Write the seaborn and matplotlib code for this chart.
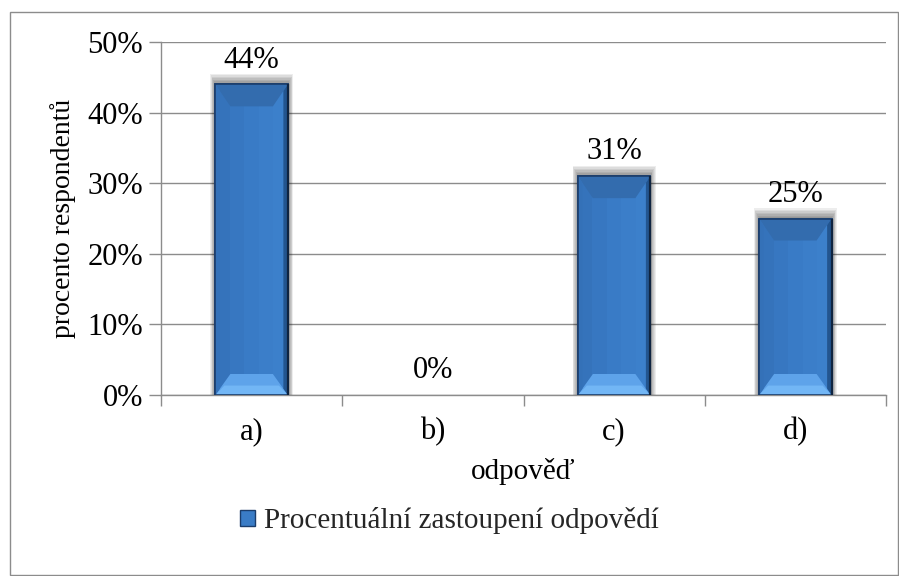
import matplotlib
matplotlib.use("Agg")
import matplotlib.pyplot as plt
from matplotlib.patches import Rectangle, Polygon, Patch
from matplotlib.ticker import PercentFormatter, FixedLocator, NullFormatter
import seaborn as sns
import pandas as pd

# Survey answers and their share of respondents
categories = ["a)", "b)", "c)", "d)"]
shares = [0.44, 0.00, 0.31, 0.25]
value_labels = ["44%", "0%", "31%", "25%"]
series_name = "Procentuální zastoupení odpovědí"

df = pd.DataFrame({"odpoved": categories, "podil": shares})

sns.set_theme(style="white")
plt.rcParams["font.family"] = ["Liberation Serif", "DejaVu Serif"]

fig = plt.figure(figsize=(8.99, 5.76), dpi=100)
ax = fig.add_axes([161 / 899, 1 - 395 / 576, 725 / 899, 353 / 576])

face = "#3a7cc6"
edge = "#1b3d6b"
sns.barplot(data=df, x="odpoved", y="podil", ax=ax, color=face, width=0.4,
            saturation=1, edgecolor=edge, linewidth=1.2, zorder=3)

ax.set_ylim(0, 0.5)
ax.set_xlim(-0.5, len(categories) - 0.5)

# gridlines and axes
grid_c = "#8c8c8c"
ax.yaxis.grid(True, color=grid_c, linewidth=1.0, zorder=0)
ax.set_axisbelow(True)
for s in ["top", "right"]:
    ax.spines[s].set_visible(False)
for s in ["left", "bottom"]:
    ax.spines[s].set_color(grid_c)
    ax.spines[s].set_linewidth(1.0)

ax.yaxis.set_major_formatter(PercentFormatter(1.0, decimals=0))
ax.set_yticks([0, 0.1, 0.2, 0.3, 0.4, 0.5])
ax.tick_params(axis="y", left=True, length=9, width=1.0, color=grid_c,
               labelsize=22, pad=4, labelcolor="black")
ax.tick_params(axis="x", which="major", bottom=False, length=0, labelsize=22,
               pad=16, labelcolor="black")
ax.xaxis.set_minor_locator(FixedLocator([i - 0.5 for i in range(len(categories) + 1)]))
ax.xaxis.set_minor_formatter(NullFormatter())
ax.tick_params(axis="x", which="minor", bottom=True, length=8, width=1.0, color=grid_c)

ax.set_xlabel("odpověď", fontsize=21, labelpad=8, color="black")
ax.set_ylabel("procento respondentů", fontsize=20, labelpad=8, color="black")

# bevel decoration and soft shadow, derived from each bar's geometry
ax_h_px = ax.get_position().height * fig.get_figheight() * fig.dpi
ax_w_px = ax.get_position().width * fig.get_figwidth() * fig.dpi
y_per_px = 0.5 / ax_h_px
x_per_px = len(categories) / ax_w_px
bars = ax.containers[0]
for p in bars.patches:
    x0, w = p.get_x(), p.get_width()
    y0, h = p.get_y(), p.get_height()
    if h <= 0:
        p.set_linewidth(0)
        p.set_visible(False)
        continue
    top = y0 + h
    # soft shadow above the bar
    for k in range(7):
        pad_x = (0.5 + k * 0.8) * x_per_px
        pad_y = (1.5 + k * 1.5) * y_per_px
        ax.add_patch(Rectangle((x0 - pad_x, y0), w + 2 * pad_x, h + pad_y,
                               facecolor="#000000", alpha=0.07, edgecolor="none",
                               zorder=2))
    bx = 15 * x_per_px
    by_top = 22 * y_per_px
    by_bot = 21 * y_per_px
    # gentle horizontal shading across the face
    shades = ["#3573bb", "#3777c1", "#397bc6", "#3b7ec9", "#3c80cb"]
    n = len(shades)
    for i, c in enumerate(shades):
        ax.add_patch(Rectangle((x0 + w * i / n, y0), w / n, h, facecolor=c,
                               edgecolor="none", zorder=3.2))
    # top bevel (darker)
    ax.add_patch(Polygon([(x0, top), (x0 + w, top), (x0 + w - bx, top - by_top),
                          (x0 + bx, top - by_top)], closed=True,
                         facecolor="#336cae", edgecolor="none", zorder=3.5))
    # bottom bevel (lighter)
    ax.add_patch(Polygon([(x0, y0), (x0 + w, y0), (x0 + w - bx, y0 + by_bot),
                          (x0 + bx, y0 + by_bot)], closed=True,
                         facecolor="#5ea3ea", edgecolor="none", zorder=3.5))
    ax.add_patch(Polygon([(x0, y0), (x0 + w, y0), (x0 + w - bx * 0.6, y0 + by_bot * 0.45),
                          (x0 + bx * 0.6, y0 + by_bot * 0.45)], closed=True,
                         facecolor="#72b6f5", edgecolor="none", zorder=3.55))
    # side strips
    ax.add_patch(Polygon([(x0, y0), (x0 + bx * 0.3, y0 + by_bot * 0.3),
                          (x0 + bx * 0.3, top - by_top * 0.3), (x0, top)], closed=True,
                         facecolor="#3471b8", edgecolor="none", zorder=3.6))
    ax.add_patch(Polygon([(x0 + w, y0), (x0 + w - bx * 0.3, y0 + by_bot * 0.3),
                          (x0 + w - bx * 0.3, top - by_top * 0.3), (x0 + w, top)],
                         closed=True, facecolor="#23558f", edgecolor="none",
                         zorder=3.6))
    ax.add_patch(Rectangle((x0, y0), w, h, facecolor="none", edgecolor=edge,
                           linewidth=1.2, zorder=3.7))
    # dark right edge
    ax.plot([x0 + w, x0 + w], [y0, top], color="#0f2440", linewidth=1.6,
            zorder=3.8, solid_capstyle="butt")

ax.bar_label(bars, labels=value_labels, padding=7, fontsize=22, color="black")

# legend below the plot
handle = Patch(facecolor=face, edgecolor=edge, linewidth=1.0)
fig.legend([handle], [series_name], loc="center", bbox_to_anchor=(0.5, 1 - 521 / 576),
           frameon=False, fontsize=21, handlelength=0.5, handleheight=0.5,
           handletextpad=0.3)

# outer chart frame
fig.patches.append(Rectangle((10 / 899, 1 / 576), 888 / 899, 563 / 576,
                             transform=fig.transFigure, facecolor="none",
                             edgecolor="#8c8c8c", linewidth=1.0))

fig.savefig("out.png", dpi=100)
